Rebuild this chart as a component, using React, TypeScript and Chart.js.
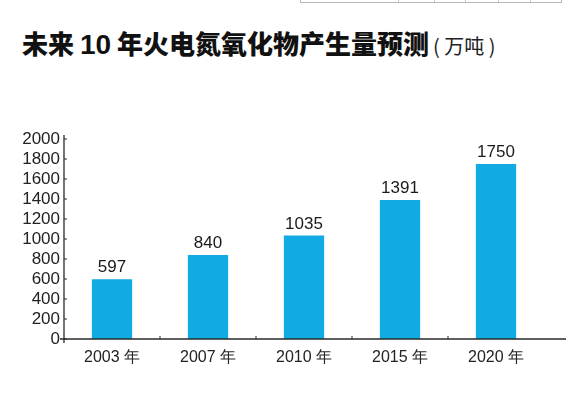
import React, { useEffect, useRef } from "react";
import { Chart, registerables } from "chart.js";

Chart.register(...registerables);

const categories = ["2003 年", "2007 年", "2010 年", "2015 年", "2020 年"];
const values = [597, 840, 1035, 1391, 1750];
const yMin = 0;
const yMax = 2000;
const yStep = 200;

const TEXT = "#1a1a1a";
const BAR = "#12aae2";
const NUM_FONT = "'Liberation Sans', Arial, sans-serif";

const axesPlugin = {
  id: "customAxes",
  afterDatasetsDraw(chart: any) {
    const { ctx, chartArea } = chart;
    const y = chart.scales.y;
    const x = chart.scales.x;
    const y0 = y.getPixelForValue(0);
    ctx.save();
    ctx.strokeStyle = "#2a2a2a";
    ctx.lineWidth = 1.3;
    ctx.beginPath();
    ctx.moveTo(chartArea.left, chartArea.top - 4);
    ctx.lineTo(chartArea.left, y0 + 4);
    ctx.stroke();
    ctx.lineWidth = 1;
    y.ticks.forEach((t: any) => {
      const py = y.getPixelForValue(t.value);
      ctx.beginPath();
      ctx.moveTo(chartArea.left, py);
      ctx.lineTo(chartArea.left + 3, py);
      ctx.stroke();
    });
    ctx.lineWidth = 1.3;
    ctx.beginPath();
    ctx.moveTo(chartArea.left - 4, y0);
    ctx.lineTo(chartArea.right + 22, y0);
    ctx.stroke();
    ctx.lineWidth = 1;
    for (let i = 0; i < categories.length - 1; i++) {
      const px = (x.getPixelForValue(i) + x.getPixelForValue(i + 1)) / 2;
      ctx.beginPath();
      ctx.moveTo(px, y0);
      ctx.lineTo(px, y0 - 3);
      ctx.stroke();
    }
    const meta = chart.getDatasetMeta(0);
    ctx.fillStyle = TEXT;
    ctx.font = `17px ${NUM_FONT}`;
    ctx.textAlign = "center";
    ctx.textBaseline = "alphabetic";
    meta.data.forEach((bar: any, i: number) => {
      ctx.fillText(String(values[i]), bar.x, bar.y - 7);
    });
    ctx.restore();
  },
};

export default function App() {
  const ref = useRef<HTMLCanvasElement>(null);
  useEffect(() => {
    if (!ref.current) return;
    const chart = new Chart(ref.current, {
      type: "bar",
      data: {
        labels: categories,
        datasets: [
          {
            data: values,
            backgroundColor: BAR,
            borderWidth: 0,
            barPercentage: 0.42,
            categoryPercentage: 1,
          },
        ],
      },
      options: {
        animation: false,
        responsive: false,
        maintainAspectRatio: false,
        devicePixelRatio: 1,
        layout: { padding: { top: 139, right: 29, left: 0, bottom: 0 } },
        plugins: {
          legend: { display: false },
          title: { display: false },
          tooltip: { enabled: false },
        },
        scales: {
          x: {
            offset: true,
            grid: { display: false, drawTicks: false },
            border: { display: false },
            ticks: {
              color: "#222",
              font: { size: 16, family: NUM_FONT },
              padding: 9,
              maxRotation: 0,
              autoSkip: false,
            },
            afterFit(scale: any) {
              scale.height = 57;
            },
          },
          y: {
            min: yMin,
            max: yMax,
            grid: { display: false, drawTicks: false, drawOnChartArea: false },
            border: { display: false },
            ticks: {
              stepSize: yStep,
              color: "#222",
              font: { size: 17, family: NUM_FONT },
              padding: 4,
              autoSkip: false,
              callback: (v: any) => String(v),
            },
            afterFit(scale: any) {
              scale.width = 64;
            },
          },
        },
      },
      plugins: [axesPlugin],
    });
    return () => chart.destroy();
  }, []);

  return (
    <div
      style={{
        position: "fixed",
        left: 0,
        top: 0,
        width: 573,
        height: 396,
        background: "#fff",
        overflow: "hidden",
      }}
    >
      <div
        style={{
          position: "absolute",
          left: 300,
          top: -10,
          width: 262,
          height: 13,
          border: "1px solid #b8b8b8",
          borderTop: "none",
          boxSizing: "border-box",
        }}
      >
        {[97, 133, 164, 197, 229].map((l) => (
          <div
            key={l}
            style={{
              position: "absolute",
              left: l,
              top: 0,
              width: 1,
              height: 12,
              background: "#c8c8c8",
            }}
          />
        ))}
      </div>
      <div
        style={{
          position: "absolute",
          left: 22,
          top: 24,
          whiteSpace: "nowrap",
          color: "#111",
          fontFamily: "'Noto Sans CJK SC', 'Noto Sans', sans-serif",
          lineHeight: "38px",
        }}
      >
        <span style={{ fontSize: 26, fontWeight: 900 }}>
          未来 <span style={{ fontFamily: "'Liberation Sans', Arial, sans-serif", fontWeight: 700, fontSize: 28 }}>10</span> 年火电氮氧化物产生量预测
        </span>
        <span style={{ fontSize: 20, fontWeight: 400, marginLeft: 4, color: "#222" }}>(&nbsp;万吨&nbsp;)</span>
      </div>
      <canvas
        ref={ref}
        width={573}
        height={396}
        style={{ position: "absolute", left: 0, top: 0, width: 573, height: 396 }}
      />
    </div>
  );
}
